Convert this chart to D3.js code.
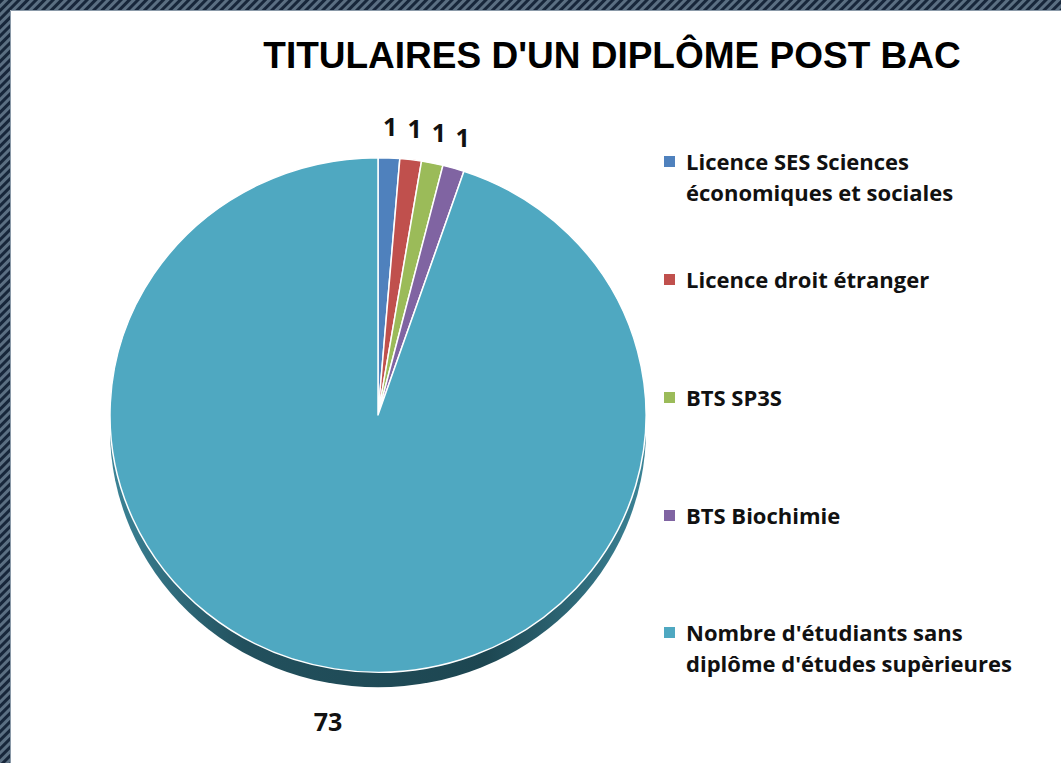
<!DOCTYPE html>
<html>
<head>
<meta charset="utf-8">
<script src="https://cdn.jsdelivr.net/npm/d3@7"></script>
<style>
  body { margin: 0; background: #fff; }
  svg { display: block; }
</style>
</head>
<body>
<svg id="chart" width="1061" height="763"></svg>
<script>
// data
const categories = [
    "Licence SES Sciences économiques et sociales",
    "Licence droit étranger",
    "BTS SP3S",
    "BTS Biochimie",
    "Nombre d'étudiants sans diplôme d'études supèrieures"
];
const legendLines = [
    ["Licence SES Sciences", "économiques et sociales"],
    ["Licence droit étranger"],
    ["BTS SP3S"],
    ["BTS Biochimie"],
    ["Nombre d'étudiants sans", "diplôme d'études supèrieures"]
];
const values = [1, 1, 1, 1, 73];
const colors = ["#4f81bd", "#c0504d", "#9bbb59", "#8064a2", "#4fa8c1"];
const title = "TITULAIRES D'UN DIPLÔME POST BAC";

const svg = d3.select("#chart");
const W = 1061, H = 763;

// hatched frame (only top and left are visible in the crop)
const defs = svg.append("defs");
const pat = defs.append("pattern")
    .attr("id", "hatch")
    .attr("patternUnits", "userSpaceOnUse")
    .attr("width", 6).attr("height", 6)
    .attr("patternTransform", "rotate(45)");
pat.append("rect").attr("width", 6).attr("height", 6).attr("fill", "#5b6f82");
pat.append("rect").attr("width", 3).attr("height", 6).attr("fill", "#17263a");

svg.append("rect").attr("width", W).attr("height", H).attr("fill", "url(#hatch)");
svg.append("rect")
    .attr("x", 10).attr("y", 10)
    .attr("width", W - 10).attr("height", H - 10)
    .attr("fill", "#fff");
svg.append("path")
    .attr("d", `M10.5,${H} V10.5 H${W}`)
    .attr("fill", "none")
    .attr("stroke", "#8a99a8");

// title
svg.append("text")
    .attr("x", 612).attr("y", 68)
    .attr("text-anchor", "middle")
    .attr("font-family", "Liberation Sans, Arial, sans-serif")
    .attr("font-weight", "bold")
    .attr("font-size", "37px")
    .text(title);

// pie geometry
const cx = 378, cy = 415, r = 268, squash = 0.96, depth = 15;

const pie = d3.pie().sort(null).value(d => d)(values);
const arc = d3.arc().innerRadius(0).outerRadius(r);

// side gradient
const grad = defs.append("linearGradient")
    .attr("id", "side").attr("x1", "0").attr("x2", "1").attr("y1", "0").attr("y2", "0");
grad.append("stop").attr("offset", "0%").attr("stop-color", "#3c8497");
grad.append("stop").attr("offset", "25%").attr("stop-color", "#22505d");
grad.append("stop").attr("offset", "70%").attr("stop-color", "#1d4651");
grad.append("stop").attr("offset", "100%").attr("stop-color", "#3c8497");

// side (depth) drawn as the same disc shifted down
svg.append("g")
    .attr("transform", `translate(${cx},${cy + depth}) scale(1,${squash})`)
    .append("circle")
    .attr("r", r)
    .attr("fill", "url(#side)");

// top face
const g = svg.append("g")
    .attr("transform", `translate(${cx},${cy}) scale(1,${squash})`);

g.selectAll("path")
    .data(pie)
    .enter()
    .append("path")
    .attr("d", arc)
    .attr("fill", (d, i) => colors[i])
    .attr("stroke", "#fff")
    .attr("stroke-width", 1.5)
    .attr("stroke-linejoin", "round");

// data labels
const labelArc = d3.arc().innerRadius(r * 1.12).outerRadius(r * 1.12);
const bigArc = d3.arc().innerRadius(r * 1.15).outerRadius(r * 1.15);
svg.selectAll(".lbl")
    .data(pie)
    .enter()
    .append("text")
    .attr("class", "lbl")
    .attr("x", d => cx + (d.value > 10 ? bigArc : labelArc).centroid(d)[0])
    .attr("y", d => {
        const c = (d.value > 10 ? bigArc : labelArc).centroid(d);
        return cy + c[1] * squash + (d.value > 10 ? depth : 0);
    })
    .attr("text-anchor", "middle")
    .attr("dy", "0.35em")
    .attr("font-family", "Open Sans, sans-serif")
    .attr("font-weight", "bold")
    .attr("font-size", "25px")
    .attr("fill", "#111")
    .text(d => d.value);

// legend
const legendY = [162, 280, 398, 516, 633];
const lg = svg.append("g").attr("transform", "translate(664,0)");
legendLines.forEach((lines, i) => {
    lg.append("rect")
        .attr("x", 0).attr("y", legendY[i] - 6)
        .attr("width", 11).attr("height", 11)
        .attr("fill", colors[i]);
    lines.forEach((t, j) => {
        lg.append("text")
            .attr("x", 22).attr("y", legendY[i] + j * 31)
            .attr("dy", "0.35em")
            .attr("font-family", "Open Sans, sans-serif")
            .attr("font-weight", "bold")
            .attr("font-size", "22px")
            .attr("fill", "#111")
            .text(t);
    });
});
</script>
</body>
</html>
